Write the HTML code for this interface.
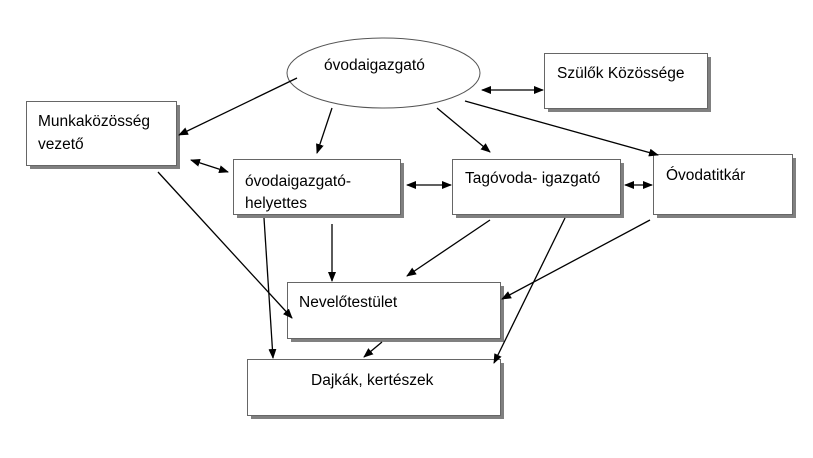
<!DOCTYPE html>
<html><head><meta charset="utf-8"><style>
html,body{margin:0;padding:0;background:#fff;}
svg text{font-family:"Liberation Sans",sans-serif;font-size:15.5px;fill:#000;}
</style></head><body>
<svg width="813" height="453" viewBox="0 0 813 453" xmlns="http://www.w3.org/2000/svg">
<defs>
<marker id="a" markerWidth="10" markerHeight="8" refX="9" refY="4" orient="auto" markerUnits="userSpaceOnUse">
<path d="M0,0 L10,4 L0,8 z" fill="#000"/></marker>
<marker id="s" markerWidth="10" markerHeight="8" refX="1" refY="4" orient="auto" markerUnits="userSpaceOnUse">
<path d="M10,0 L0,4 L10,8 z" fill="#000"/></marker>
</defs>
<g fill="#808080">
<rect x="548" y="57" width="163" height="55"/>
<rect x="30" y="105" width="150" height="64"/>
<rect x="237" y="163" width="167" height="55"/>
<rect x="456" y="163" width="168" height="55"/>
<rect x="657" y="158" width="139" height="60"/>
<rect x="291" y="286" width="213" height="56"/>
<rect x="251" y="363" width="253" height="56"/>
</g>
<g fill="#fff" stroke="#666" stroke-width="1">
<rect x="544.5" y="53.5" width="163" height="55"/>
<rect x="26.5" y="101.5" width="150" height="64"/>
<rect x="233.5" y="159.5" width="167" height="55"/>
<rect x="452.5" y="159.5" width="168" height="55"/>
<rect x="653.5" y="154.5" width="139" height="60"/>
<rect x="287.5" y="282.5" width="213" height="56"/>
<rect x="247.5" y="359.5" width="253" height="56"/>
<ellipse cx="383.5" cy="73" rx="96.5" ry="35" stroke="#555"/>
</g>
<text x="324" y="70">óvodaigazgató</text>
<text x="557" y="78">Szülők Közössége</text>
<text x="38" y="126">Munkaközösség</text>
<text x="38" y="149">vezető</text>
<text x="245" y="186">óvodaigazgató-</text>
<text x="245" y="208">helyettes</text>
<text x="465" y="183">Tagóvoda- igazgató</text>
<text x="666" y="180">Óvodatitkár</text>
<text x="299" y="307">Nevelőtestület</text>
<text x="311" y="385">Dajkák, kertészek</text>
<g stroke="#000" stroke-width="1.3" fill="none">
<line x1="297" y1="78" x2="179" y2="135" marker-end="url(#a)"/>
<line x1="332" y1="108" x2="317" y2="153" marker-end="url(#a)"/>
<line x1="437" y1="108" x2="490" y2="152" marker-end="url(#a)"/>
<line x1="465" y1="101" x2="658" y2="155" marker-end="url(#a)"/>
<line x1="482" y1="90" x2="543" y2="90" marker-start="url(#s)" marker-end="url(#a)"/>
<line x1="191" y1="160" x2="228" y2="172" marker-start="url(#s)" marker-end="url(#a)"/>
<line x1="407" y1="185" x2="451" y2="185" marker-start="url(#s)" marker-end="url(#a)"/>
<line x1="625" y1="185" x2="652" y2="185" marker-start="url(#s)" marker-end="url(#a)"/>
<line x1="158" y1="172" x2="292" y2="318" marker-end="url(#a)"/>
<line x1="264" y1="218" x2="273" y2="358" marker-end="url(#a)"/>
<line x1="332" y1="224" x2="332" y2="281" marker-end="url(#a)"/>
<line x1="490" y1="220" x2="407" y2="276" marker-end="url(#a)"/>
<line x1="565" y1="218" x2="494" y2="363" marker-end="url(#a)"/>
<line x1="650" y1="220" x2="502" y2="299" marker-end="url(#a)"/>
<line x1="382" y1="342" x2="364" y2="357" marker-end="url(#a)"/>
</g>
</svg>
</body></html>
